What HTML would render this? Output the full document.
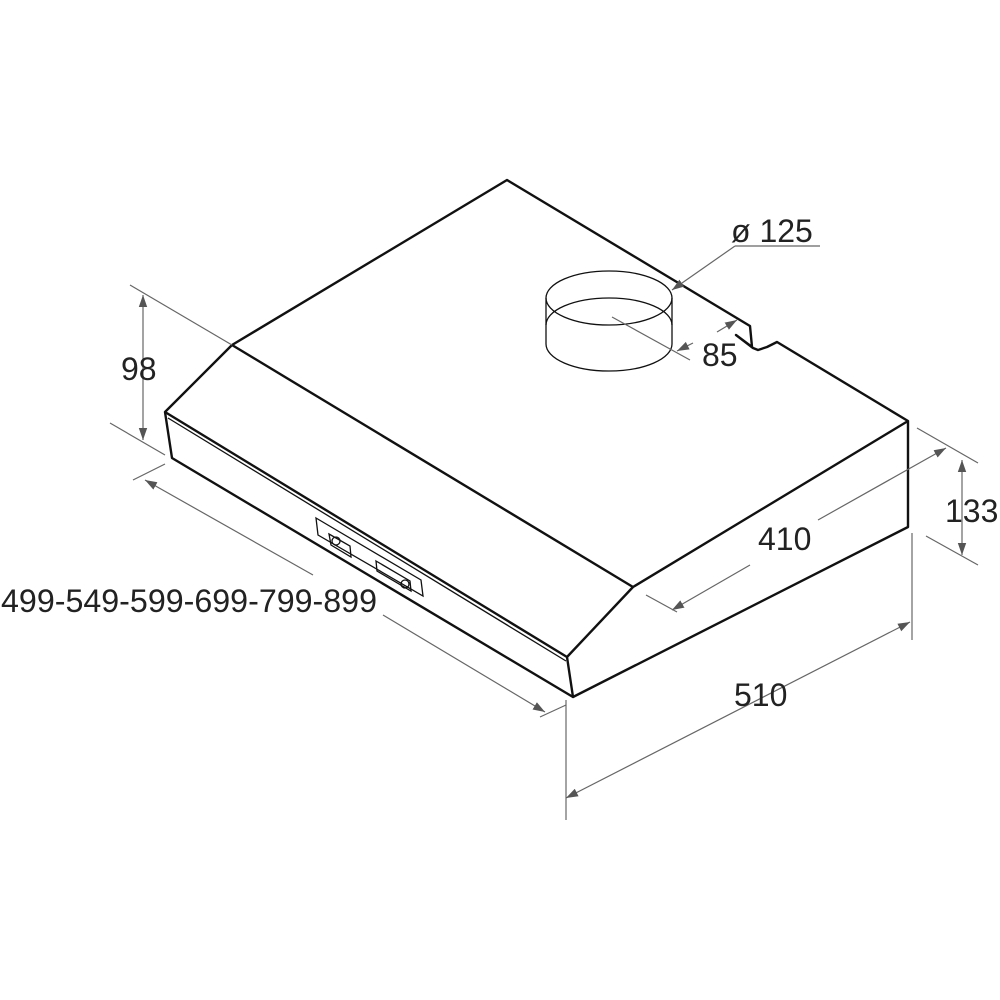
<!DOCTYPE html>
<html><head><style>body{margin:0;background:#fff}svg{display:block}</style></head><body>
<svg width="1000" height="1000" viewBox="0 0 1000 1000" xmlns="http://www.w3.org/2000/svg">
<defs>
<marker id="a" viewBox="0 0 10 10" refX="10" refY="5" markerWidth="12" markerHeight="12" orient="auto-start-reverse" markerUnits="userSpaceOnUse"><path d="M0,1.5 L10,5 L0,8.5 z" fill="#555"/></marker>
</defs>
<g fill="none" stroke="#111" stroke-width="2.4" stroke-linejoin="round">
<path d="M232,345 L507,180 L750,326 L752,347 L736,335 L753,348 L758,350 L767,347 L777,342 L908,421 L908,527 L573,697 L567,657 L633,587 L908,421"/>
<path d="M232,345 L633,587"/>
<path d="M232,345 L165,412 L172,458 L573,697"/>
<path d="M165,412 L567,657"/>
</g>
<g fill="none" stroke="#111" stroke-width="1.3">
<path d="M168,418 L566,661"/>
<ellipse cx="609" cy="298" rx="63" ry="27"/>
<path d="M546,325 A63,27 0 0 1 672,325"/>
<path d="M546,298 L546,344 A63,27 0 0 0 672,344 L672,298"/>
<path d="M316,518 L421,580 L423,596 L318,535 Z"/>
<path d="M329,534 L350,546 L351,557 L331,545 Z"/>
<path d="M376,561 L410,581 L411,591 L377,571 Z"/>
<circle cx="336" cy="541" r="4"/><circle cx="405" cy="584" r="4"/>
</g>
<g stroke="#666" stroke-width="1.2" fill="none">
<path d="M735,246 L820,246"/>
<path d="M735,246 L672,290" marker-end="url(#a)"/>
<path d="M612,317 L690,360"/>
<path d="M717,332 L737,320" marker-end="url(#a)"/>
<path d="M693,343 L677,351" marker-end="url(#a)"/>
<path d="M818,520 L946,448" marker-end="url(#a)"/>
<path d="M750,565 L672,610" marker-end="url(#a)"/>
<path d="M917,428 L978,463"/>
<path d="M646,595 L677,612"/>
<path d="M962,460 L962,555" marker-start="url(#a)" marker-end="url(#a)"/>
<path d="M926,536 L978,565"/>
<path d="M566,700 L566,820"/>
<path d="M912,533 L912,640"/>
<path d="M566,798 L910,622" marker-start="url(#a)" marker-end="url(#a)"/>
<path d="M143,295 L143,440" marker-start="url(#a)" marker-end="url(#a)"/>
<path d="M130,285 L232,345"/>
<path d="M110,423 L165,455"/>
<path d="M133,480 L165,464"/>
<path d="M145,480 L313,575" marker-start="url(#a)"/>
<path d="M383,615 L545,712" marker-end="url(#a)"/>
<path d="M540,717 L566,705"/>
</g>
<g font-family="Liberation Sans, sans-serif" font-size="32" fill="#222">
<text x="731" y="242">ø 125</text>
<text x="702" y="366">85</text>
<text x="758" y="550">410</text>
<text x="945" y="522">133</text>
<text x="734" y="706">510</text>
<text x="121" y="380">98</text>
<text x="1" y="612" textLength="376" lengthAdjust="spacingAndGlyphs">499-549-599-699-799-899</text>
</g>
</svg>
</body></html>
